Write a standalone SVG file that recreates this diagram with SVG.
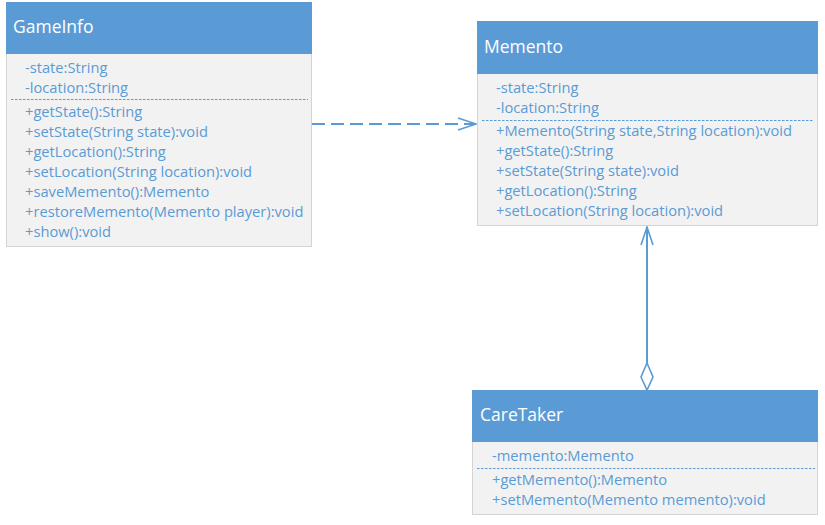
<svg xmlns="http://www.w3.org/2000/svg" width="825" height="525" viewBox="0 0 825 525">
<defs>
<style>
.hdr{fill:#5b9bd5;stroke:#5b9bd5;stroke-width:1}
.body{fill:#f2f2f2;stroke:#d4d4d4;stroke-width:1}
.title{font-family:"Open Sans","Liberation Sans",sans-serif;font-size:17.5px;fill:#ffffff}
.mem{font-family:"Open Sans","Liberation Sans",sans-serif;font-size:14.7px;fill:#5b9bd5}
.sep{stroke:#5b9bd5;stroke-width:1;stroke-dasharray:2.5 1.5}
.conn{stroke:#5b9bd5;stroke-width:2;fill:none}
</style>
<marker id="open" viewBox="0 0 20 14" refX="19" refY="7" markerWidth="20" markerHeight="14" markerUnits="userSpaceOnUse" orient="auto">
<path d="M1 1 L19 7 L1 13" fill="none" stroke="#5b9bd5" stroke-width="1.6"/>
</marker>
</defs>
<rect width="825" height="525" fill="#ffffff"/>

<g id="GameInfo">
<rect class="body" x="6.5" y="53.5" width="305" height="193"/>
<rect class="hdr" x="6.5" y="2.5" width="305" height="51"/>
<text class="title" x="13" y="33">GameInfo</text>
<text class="mem" x="25" y="73">-state:String</text>
<text class="mem" x="25" y="93">-location:String</text>
<line class="sep" x1="11" y1="99.5" x2="308" y2="99.5"/>
<text class="mem" x="25" y="117">+getState():String</text>
<text class="mem" x="25" y="137">+setState(String state):void</text>
<text class="mem" x="25" y="157">+getLocation():String</text>
<text class="mem" x="25" y="177">+setLocation(String location):void</text>
<text class="mem" x="25" y="197">+saveMemento():Memento</text>
<text class="mem" x="25" y="217">+restoreMemento(Memento player):void</text>
<text class="mem" x="25" y="237">+show():void</text>
</g>

<g id="Memento">
<rect class="body" x="477.5" y="73.5" width="340" height="152"/>
<rect class="hdr" x="477.5" y="21.5" width="340" height="52"/>
<text class="title" x="484" y="53">Memento</text>
<text class="mem" x="496" y="93">-state:String</text>
<text class="mem" x="496" y="113">-location:String</text>
<line class="sep" x1="482" y1="120.5" x2="814" y2="120.5"/>
<text class="mem" x="496" y="136">+Memento(String state,String location):void</text>
<text class="mem" x="496" y="156">+getState():String</text>
<text class="mem" x="496" y="176">+setState(String state):void</text>
<text class="mem" x="496" y="196">+getLocation():String</text>
<text class="mem" x="496" y="216">+setLocation(String location):void</text>
</g>

<g id="CareTaker">
<rect class="body" x="472.5" y="441.5" width="345" height="73"/>
<rect class="hdr" x="472.5" y="390.5" width="345" height="51"/>
<text class="title" x="480" y="421">CareTaker</text>
<text class="mem" x="492" y="461">-memento:Memento</text>
<line class="sep" x1="477" y1="468.5" x2="815" y2="468.5"/>
<text class="mem" x="492" y="485">+getMemento():Memento</text>
<text class="mem" x="492" y="505">+setMemento(Memento memento):void</text>
</g>

<g id="connectors">
<line class="conn" x1="312" y1="124" x2="476" y2="124" stroke-dasharray="13 6" marker-end="url(#open)"/>
<line class="conn" x1="647" y1="363" x2="647" y2="227" marker-end="url(#open)"/>
<path d="M647 363 L653 377 L647 390 L641 377 Z" fill="#ffffff" stroke="#5b9bd5" stroke-width="1.6"/>
</g>
</svg>
